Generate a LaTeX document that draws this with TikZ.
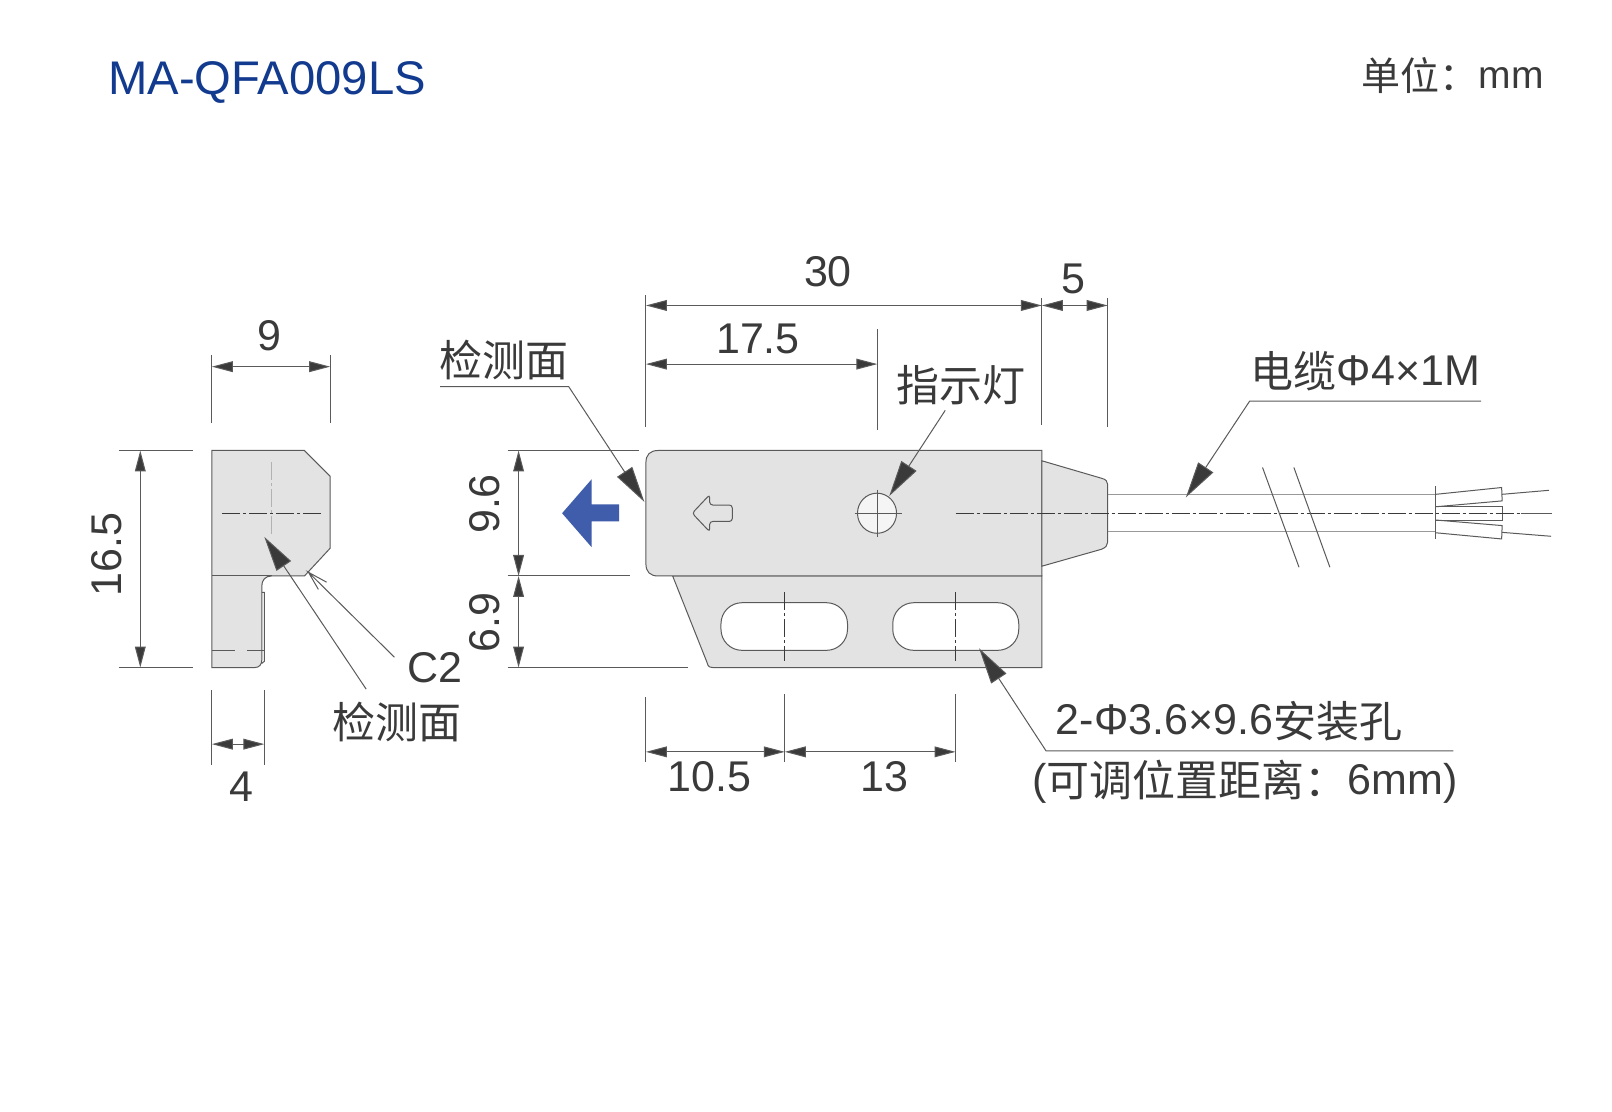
\documentclass[tikz,border=0pt]{standalone}
\usepackage{fontspec}
\setmainfont{Liberation Sans}
\newfontfamily\cjk{Noto Sans CJK SC}[Scale=1]
\newcommand\cjtext[1]{\raisebox{-1.2pt}{\cjk #1}}
\usetikzlibrary{arrows.meta}
\definecolor{ink}{HTML}{3A3A3A}
\definecolor{edge}{HTML}{5A5A5A}
\definecolor{body}{HTML}{E3E3E3}
\definecolor{titleblue}{HTML}{123A8E}
\definecolor{arrowblue}{HTML}{3F5DAB}
\tikzset{
  thinline/.style={draw=edge,line width=0.5pt},
  part/.style={draw=edge,line width=0.5pt,fill=body},
  extline/.style={draw=edge,line width=0.5pt},
  dimline/.style={draw=edge,line width=0.5pt,{Triangle[length=10.5pt,width=5.4pt,fill=ink]}-{Triangle[length=10.5pt,width=5.4pt,fill=ink]}},
  leader/.style={draw=edge,line width=0.5pt,-{Triangle[length=18pt,width=9pt,fill=ink]}},
  axisline/.style={draw=ink,line width=0.5pt,dash pattern=on 9pt off 1.5pt on 1.5pt off 1.5pt},
  lightaxis/.style={draw=black!30,line width=0.4pt,dash pattern=on 9pt off 1.5pt on 1.5pt off 1.5pt},
  lbl/.style={text=ink,font=\fontsize{21.5}{22}\selectfont,inner sep=0pt,anchor=base},
}
\begin{document}
\begin{tikzpicture}[x=0.51425pt,y=-0.51425pt]
\useasboundingbox (0,0) rectangle (1567.3,1081);
\fill[white] (0,0) rectangle (1567.3,1081);

% ---- side view
\path[part] (206,438) -- (296,438) -- (321,463) -- (321,533) -- (296,560) -- (264,560)
  .. controls (258,560) and (254.5,564) .. (254.5,570) -- (254.5,642) .. controls (254.5,646) and (252,649) .. (248,649) -- (206,649) -- cycle;
\draw[thinline] (206,560) -- (264,560);
\draw[thinline] (254.5,576) -- (257,576) -- (257,643) -- (254.5,645);
\draw[thinline,dash pattern=on 11.7pt off 6pt] (206,632.5) -- (257,632.5);
\draw[lightaxis] (263.5,449) -- (263.5,520);
\draw[axisline] (216,499) -- (313,499);

\coordinate (s9a) at (206,356.5); \coordinate (s9b) at (321,356.5);
\draw[extline] (206,345) -- (206,411.5) (321,345) -- (321,411.5);
\draw[dimline] (s9a) -- (s9b);
\draw[extline] (115.5,438) -- (188,438) (115.5,649) -- (188,649);
\coordinate (s16a) at (136.4,438); \coordinate (s16b) at (136.4,649);
\draw[dimline] (s16a) -- (s16b);
\draw[extline] (206,671) -- (206,744) (257,671) -- (257,744);
\coordinate (s4a) at (206,723.5); \coordinate (s4b) at (257,723.5);
\draw[dimline] (s4a) -- (s4b);

\node[lbl] (n9) at (261.5,341) {9};
\node[lbl] (n165) at (118,539) [rotate=90] {16.5};
\node[lbl] (n4) at (234.5,779) {4};
\node[lbl] (nC2) at (422.5,664) {C2};
\node[lbl] (ndet2) at (386,716) {\cjtext{检测面}};

\coordinate (sarrowstart) at (356,670); \coordinate (sarrowtip) at (257,522);
\draw[draw=edge,line width=0.5pt,-{Triangle[length=17.5pt,width=8.7pt,fill=ink]}] (sarrowstart) -- (sarrowtip);
\coordinate (c2start) at (383.5,639); \coordinate (c2tip) at (300,556.5);
\coordinate (c2b1) at (317.5,566); \coordinate (c2b2) at (309.5,573);
\draw[thinline] (c2start) -- (c2tip) -- (c2b1) (c2tip) -- (c2b2);

% ---- main view
\path[part] (654,560) -- (687,643) .. controls (688,646) and (688,649) .. (693,649) -- (1013,649) -- (1013,560) -- cycle;
\path[part] (640,438) -- (1013,438) -- (1013,560) -- (640,560)
  .. controls (632,560) and (628,556) .. (628,548) -- (628,450) .. controls (628,442) and (632,438) .. cycle;
\path[part] (1013,448) -- (1071,465) .. controls (1075,466) and (1077,468) .. (1077,471) -- (1077,527)
  .. controls (1077,530) and (1075,532.5) .. (1071,534) -- (1013,550.5) -- cycle;
\draw[draw=edge,line width=0.5pt,fill=white,rounded corners=10.5pt] (701,586) rectangle (824,632.3);
\draw[draw=edge,line width=0.5pt,fill=white,rounded corners=10.5pt] (868,586) rectangle (990.5,632.3);
\draw[axisline] (762.8,576) -- (762.8,642.5);
\draw[axisline] (929,576) -- (929,642.5);

% small outlined arrow
\draw[thinline,rounded corners=1.5pt] (673,499) -- (690,481) -- (690,491) -- (712,491) -- (712,507) -- (690,507) -- (690,517) -- cycle;
% indicator lamp
\draw[draw=edge,line width=0.5pt,fill=black!4] (852.7,499) ellipse[x radius=19,y radius=19.5];
\draw[thinline] (831,499) -- (876.5,499) (852.7,476) -- (852.7,522);
% blue arrow
\fill[arrowblue] (546.5,499) -- (575.2,466) -- (575.2,490.5) -- (602,490.5) -- (602,507) -- (575.2,507) -- (575.2,532) -- cycle;

% cable
\draw[draw=gray!80,line width=0.7pt] (1077,480.6) -- (1396,480.6) (1077,517) -- (1396,517);
\draw[thinline] (1396,473) -- (1396,524.5);
\draw[thinline] (1396,480.6) -- (1460,474) -- (1460.5,487) -- (1396,492.7);
\draw[thinline] (1396,492.7) -- (1460.5,492.7) -- (1460.5,505.6) -- (1396,505.6);
\draw[thinline] (1396,505.6) -- (1460.5,511) -- (1460,524) -- (1396,518);
\draw[thinline] (1460.5,480.6) -- (1506,476.7) (1460.5,517.6) -- (1508,521.4);
\draw[axisline] (929,499) -- (1479,499);
\draw[thinline] (1479,499) -- (1509,499);
\draw[thinline] (1227.5,454.5) -- (1263,551.5) (1258,454.5) -- (1293,551.5);

% dimensions, main view
\draw[extline] (493.5,438) -- (621,438) (493.5,560) -- (612.5,560) (493.5,649) -- (669,649);
\coordinate (d96a) at (504.2,438); \coordinate (d96b) at (504.2,560); \coordinate (d69b) at (504.2,649);
\draw[dimline] (d96a) -- (d96b);
\draw[dimline] (d96b) -- (d69b);
\draw[extline] (628,287) -- (628,415) (1013,290) -- (1013,413) (1077,290) -- (1077,415) (853,320) -- (853,418);
\coordinate (d30a) at (628,297); \coordinate (d30b) at (1013,297); \coordinate (d5b) at (1077,297);
\coordinate (d17a) at (628,354); \coordinate (d17b) at (853,354);
\draw[dimline] (d30a) -- (d30b);
\draw[dimline] (d30b) -- (d5b);
\draw[dimline] (d17a) -- (d17b);
\draw[extline] (628,678) -- (628,741) (763,675) -- (763,741) (929,675) -- (929,741);
\coordinate (d10a) at (628,731); \coordinate (d10b) at (763,731); \coordinate (d13b) at (929,731);
\draw[dimline] (d10a) -- (d10b);
\draw[dimline] (d10b) -- (d13b);

\node[lbl] (n30) at (805,279) {30};
\node[lbl] (n5) at (1043.5,285) {5};
\node[lbl] (n175) at (737,344) {17.5};
\node[lbl] (n96) at (485.5,490) [rotate=90] {9.6};
\node[lbl] (n69) at (485.5,605) [rotate=90] {6.9};
\node[lbl] (n105) at (690,769.5) {10.5};
\node[lbl] (n13) at (859.5,769.5) {13};
\node[lbl] (ndet1) at (490.5,363.5) {\cjtext{检测面}};
\node[lbl] (nlamp) at (934.5,388.5) {\cjtext{指示灯}};
\node[lbl] (ncable) at (1327.5,374.5) {\cjtext{电缆}Φ4×1M};
\node[lbl] (nhole) at (1195,714.5) {2-Φ3.6×9.6\cjtext{安装孔}};
\node[lbl] (nadj) at (1210.5,772.5) {(\cjtext{可调位置距离：}6mm)};

% leaders
\coordinate (l1a) at (428,376); \coordinate (l1b) at (553,376); \coordinate (l1t) at (626.5,488);
\draw[leader] (l1a) -- (l1b) -- (l1t);
\coordinate (l2a) at (919,399); \coordinate (l2t) at (864.6,482.3);
\draw[leader] (l2a) -- (l2t);
\coordinate (l3a) at (1440,390); \coordinate (l3b) at (1215,390); \coordinate (l3t) at (1153,483.6);
\draw[leader] (l3a) -- (l3b) -- (l3t);
\coordinate (l4a) at (1413,730); \coordinate (l4b) at (1017,730); \coordinate (l4t) at (952,630.4);
\draw[leader] (l4a) -- (l4b) -- (l4t);

% header
\node[inner sep=0pt,anchor=base west,text=titleblue,font=\fontsize{23.6}{24}\selectfont] (title) at (105,92) {MA-QFA009LS};
\node[inner sep=0pt,anchor=base east,text=ink,font=\fontsize{19.5}{20}\selectfont] (unit) at (1501.5,86) {\cjtext{单位：}mm};
\end{tikzpicture}
\end{document}
